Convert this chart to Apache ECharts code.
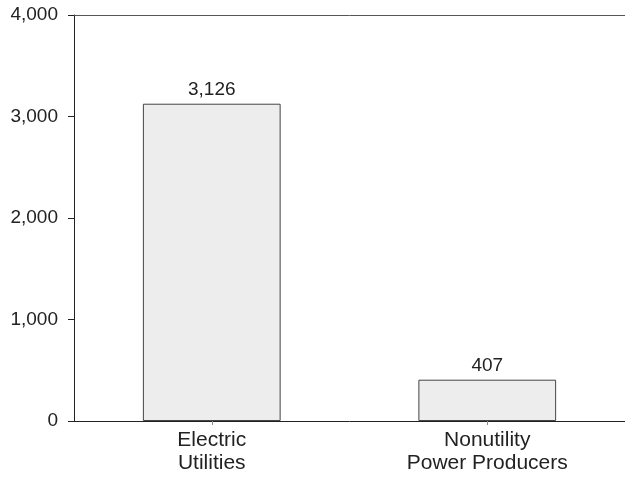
<!DOCTYPE html>
<html>
<head>
<meta charset="utf-8">
<script src="https://cdn.jsdelivr.net/npm/echarts@6/dist/echarts.min.js"></script>
<style>html,body{margin:0;padding:0;background:#fff}#c{width:625px;height:480px}</style>
</head>
<body>
<div id="c"></div>
<script>
const categories = ['Electric\nUtilities', 'Nonutility\nPower Producers'];
const values = [3126, 407];
const yTicks = [0, 1000, 2000, 3000, 4000];

const fmt = v => Number(v).toLocaleString('en-US');
const font = 'Liberation Sans, Arial, sans-serif';

const chart = echarts.init(document.getElementById('c'), null, {renderer: 'canvas'});
chart.setOption({
  animation: false,
  backgroundColor: '#fff',
  grid: {left: 74, right: -3, top: 15, bottom: 59, containLabel: false},
  xAxis: [{
    type: 'category',
    data: categories,
    axisLine: {show: true, lineStyle: {color: '#222', width: 1}},
    axisTick: {show: true, alignWithLabel: true, length: 4, lineStyle: {color: '#888'}},
    axisLabel: {color: '#222', fontSize: 21, fontFamily: font, margin: 8, lineHeight: 23}
  }, {
    type: 'category',
    position: 'top',
    data: categories,
    axisLine: {show: true, lineStyle: {color: '#555', width: 1}},
    axisTick: {show: false},
    axisLabel: {show: false}
  }],
  yAxis: {
    type: 'value',
    min: yTicks[0],
    max: yTicks[yTicks.length - 1],
    interval: 1000,
    axisLine: {show: true, lineStyle: {color: '#222', width: 1}},
    axisTick: {show: true, length: 6, lineStyle: {color: '#222'}},
    splitLine: {show: false},
    axisLabel: {color: '#222', fontSize: 19, fontFamily: font, margin: 16, formatter: fmt}
  },
  series: [{
    type: 'bar',
    data: values,
    barWidth: '50%',
    itemStyle: {color: '#ededed', borderColor: '#444', borderWidth: 1},
    label: {show: true, position: 'top', distance: 4, color: '#222', fontSize: 19, fontFamily: font, formatter: p => fmt(p.value)}
  }]
});
</script>
</body>
</html>
